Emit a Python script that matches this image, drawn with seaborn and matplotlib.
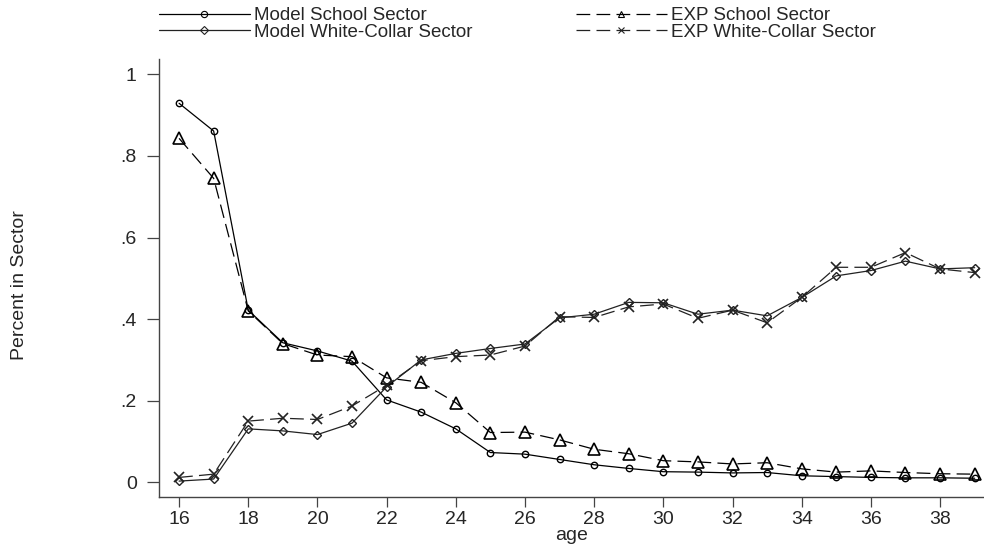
import numpy as np
import pandas as pd
import seaborn as sns
import matplotlib.pyplot as plt
from matplotlib.lines import Line2D

# values
ages = list(range(16, 40))
model_school = [0.929, 0.861, 0.422, 0.342, 0.322, 0.297, 0.202, 0.172, 0.131, 0.073, 0.069, 0.056,
                0.043, 0.034, 0.026, 0.025, 0.023, 0.024, 0.016, 0.014, 0.012, 0.011, 0.011, 0.010]
exp_school = [0.843, 0.745, 0.420, 0.340, 0.312, 0.308, 0.256, 0.245, 0.195, 0.122, 0.123, 0.104,
              0.081, 0.070, 0.053, 0.050, 0.045, 0.048, 0.033, 0.025, 0.028, 0.024, 0.021, 0.020]
model_wc = [0.003, 0.008, 0.131, 0.126, 0.117, 0.145, 0.234, 0.300, 0.316, 0.328, 0.339, 0.403,
            0.412, 0.441, 0.440, 0.412, 0.422, 0.408, 0.453, 0.506, 0.519, 0.542, 0.523, 0.526]
exp_wc = [0.012, 0.020, 0.150, 0.157, 0.154, 0.187, 0.238, 0.298, 0.308, 0.312, 0.334, 0.406,
          0.404, 0.430, 0.437, 0.402, 0.422, 0.391, 0.453, 0.527, 0.527, 0.563, 0.523, 0.514]
y_ticks = [0, 0.2, 0.4, 0.6, 0.8, 1]
y_tick_labels = ["0", ".2", ".4", ".6", ".8", "1"]

df = pd.DataFrame({
    "age": ages * 4,
    "value": model_school + model_wc + exp_school + exp_wc,
    "series": (["Model School Sector"] * 24 + ["Model White-Collar Sector"] * 24
               + ["EXP School Sector"] * 24 + ["EXP White-Collar Sector"] * 24),
})

sns.set_style("white")
plt.rcParams['font.family'] = ['Liberation Sans', 'DejaVu Sans']

fig = plt.figure(figsize=(9.84, 5.48), dpi=100)
ax = fig.add_axes([159 / 984, 1 - 497 / 548, 825 / 984, 438 / 548])

dash = (0, (11, 5))
styles = {
    "Model School Sector": dict(color="black", ls="-", marker="o", ms=4.6, mew=1.0),
    "Model White-Collar Sector": dict(color="#222222", ls="-", marker="D", ms=4.4, mew=1.0),
    "EXP School Sector": dict(color="black", ls=dash, marker="^", ms=8.5, mew=1.2),
    "EXP White-Collar Sector": dict(color="#222222", ls=dash, marker="x", ms=7, mew=1.2),
}
for name, st in styles.items():
    sub = df[df["series"] == name]
    sns.lineplot(data=sub, x="age", y="value", ax=ax, lw=0.9,
                 color=st["color"], linestyle=st["ls"], marker=st["marker"],
                 markersize=st["ms"], markeredgewidth=st["mew"],
                 markerfacecolor="none", markeredgecolor=st["color"])

ax.set_xlim(15.42, 39.27)
ax.set_ylim(-0.036, 1.0375)
ax.set_xticks(range(16, 40, 2))
ax.set_yticks(y_ticks)
ax.set_yticklabels(y_tick_labels)
ax.tick_params(axis="x", bottom=True, length=7, width=0.9, color="#444444", pad=3, labelsize=14)
ax.tick_params(axis="y", left=True, length=9, width=0.9, color="#444444", pad=7, labelsize=14)
ax.set_xlabel("age", fontsize=14, labelpad=-1)
ax.set_ylabel("Percent in Sector", fontsize=14)
ax.yaxis.set_label_coords(-0.159, 0.485)

sns.despine(ax=ax)
for s in ["left", "bottom"]:
    ax.spines[s].set_color("#444444")
    ax.spines[s].set_linewidth(1.0)

# separate legend handles with small markers
handles = [Line2D([], [], color=st["color"], ls=st["ls"], lw=0.9, marker=st["marker"],
                  ms=4.5, mew=0.8, mfc="none", mec=st["color"]) for st in styles.values()]
labels = list(styles.keys())

leg_kw = dict(loc="upper left", bbox_transform=fig.transFigure, frameon=False, fontsize=13.5,
              handlelength=4.85, handletextpad=0.2, labelspacing=-0.02,
              borderaxespad=0, borderpad=0)
leg1 = ax.legend(handles[:2], labels[:2], bbox_to_anchor=(159 / 984, 1 - 7 / 548), **leg_kw)
ax.add_artist(leg1)
ax.legend(handles[2:], labels[2:], bbox_to_anchor=(576 / 984, 1 - 7 / 548), **leg_kw)

fig.savefig("out.png", dpi=100)
